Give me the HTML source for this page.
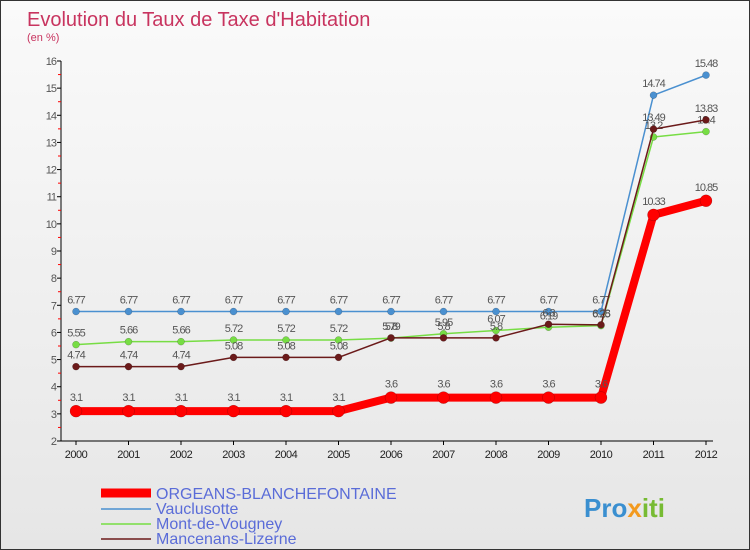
<!DOCTYPE html>
<html><head><meta charset="utf-8"><style>
body{margin:0;background:#fff}
#wrap{width:748px;height:548px;border:1px solid #333;background:linear-gradient(#fafafa,#e6e6e6);position:relative;overflow:hidden;font-family:"Liberation Sans",sans-serif}
svg text{font-family:"Liberation Sans",sans-serif}
</style></head><body>
<div id="wrap">
<svg width="748" height="548" id="chart">
<text x="26" y="25" font-size="20" fill="#c8345f">Evolution du Taux de Taxe d'Habitation</text>
<text x="26" y="40" font-size="11" fill="#c8345f">(en %)</text>
<g id="axes"></g><g id="series"></g>
<g>
<line x1="100" y1="492" x2="150" y2="492" stroke="#f00" stroke-width="9"/>
<text x="155" y="498" font-size="16" fill="#5a6cd8">ORGEANS-BLANCHEFONTAINE</text>
<line x1="100" y1="508" x2="150" y2="508" stroke="#4a90d0" stroke-width="1.5"/>
<text x="155" y="513" font-size="16" fill="#5a6cd8">Vauclusotte</text>
<line x1="100" y1="523" x2="150" y2="523" stroke="#77dd44" stroke-width="1.5"/>
<text x="155" y="528" font-size="16" fill="#5a6cd8">Mont-de-Vougney</text>
<line x1="100" y1="538" x2="150" y2="538" stroke="#6b1a1a" stroke-width="1.5"/>
<text x="155" y="543" font-size="16" fill="#5a6cd8">Mancenans-Lizerne</text>
</g>
<text x="583" y="516" font-size="26" font-weight="bold" fill="#3a8fd0">Pro<tspan fill="#f39a1e">x</tspan><tspan fill="#77bb33">iti</tspan></text>
</svg>
</div>
<script>
const years=[2000,2001,2002,2003,2004,2005,2006,2007,2008,2009,2010,2011,2012];
const orgeans=[3.1,3.1,3.1,3.1,3.1,3.1,3.6,3.6,3.6,3.6,3.6,10.33,10.85];
const vauclusotte=[6.77,6.77,6.77,6.77,6.77,6.77,6.77,6.77,6.77,6.77,6.77,14.74,15.48];
const mont=[5.55,5.66,5.66,5.72,5.72,5.72,5.79,5.95,6.07,6.19,6.25,13.2,13.4];
const mancenans=[4.74,4.74,4.74,5.08,5.08,5.08,5.8,5.8,5.8,6.3,6.28,13.49,13.83];
const yTicks=[2,3,4,5,6,7,8,9,10,11,12,13,14,15,16];
const NS="http://www.w3.org/2000/svg";
const x=i=>75+i*52.5, y=v=>440-(v-2)*(380/14);
function mk(tag,attrs,parent){const e=document.createElementNS(NS,tag);for(const k in attrs)e.setAttribute(k,attrs[k]);parent.appendChild(e);return e;}
const ax=document.getElementById('axes');
let l=mk('line',{x1:60,y1:60,x2:60,y2:440,stroke:'#000'},ax);


l=mk('line',{x1:60,y1:440,x2:712,y2:440,stroke:'#000'},ax);


yTicks.forEach(v=>{
  mk('line',{x1:56,y1:y(v),x2:60,y2:y(v),stroke:'#000'},ax);
  if(v<16)mk('line',{x1:57,y1:y(v+0.5),x2:60,y2:y(v+0.5),stroke:'#f00'},ax);
  const t=mk('text',{x:55,y:y(v)+4,'font-size':11,fill:'#555','text-anchor':'end','letter-spacing':'-1'},ax);
  t.textContent=v;
  
  
});
years.forEach((yr,i)=>{
  mk('line',{x1:x(i),y1:440,x2:x(i),y2:444,stroke:'#000'},ax);
  const t=mk('text',{x:x(i),y:457,'font-size':11,fill:'#222','text-anchor':'middle','letter-spacing':'-0.5'},ax);
  t.textContent=yr;
  
  
});
const sg=document.getElementById('series');
function series(data,color,w,r,name,lab){
  const g=mk('g',{},sg);
  
  
  mk('polyline',{points:data.map((v,i)=>x(i)+','+y(v)).join(' '),fill:'none',stroke:color,'stroke-width':w,'stroke-linejoin':'round'},g);
  data.forEach((v,i)=>{
    const c=mk('circle',{cx:x(i),cy:y(v),r:r,fill:color,stroke:'rgba(0,0,0,0.3)','stroke-width':0.5},g);
    
    
    const t=mk('text',{x:x(i),y:y(v)-lab,'font-size':11,fill:'#555','text-anchor':'middle','letter-spacing':'-1'},g);
    t.textContent=v;
    
    
  });
}
series(vauclusotte,'#4a90d0',1.5,3.5,'vauclusotte-series',8);
series(mont,'#77dd44',1.5,3.5,'mont-de-vougney-series',8);
series(mancenans,'#6b1a1a',1.5,3.5,'mancenans-lizerne-series',8);
series(orgeans,'#f00',8,6,'orgeans-series',10);
</script>
</body></html>
